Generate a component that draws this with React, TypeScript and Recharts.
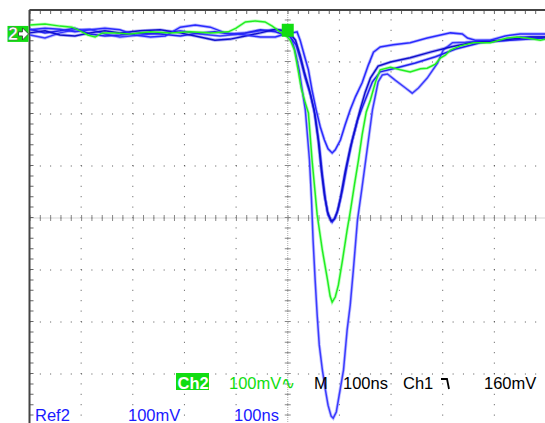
import { LineChart, Line, XAxis, YAxis, ReferenceLine, ReferenceDot } from 'recharts'

// time in ns relative to trigger (100ns/div), level in mV relative to screen centre (100mV/div)
const T_TICKS = [-500, -400, -300, -200, -100, 0, 100, 200, 300, 400, 500]
const V_TICKS = [-400, -300, -200, -100, 0, 100, 200, 300, 400]

const CH2: [number, number][] = [
  [-499, 371], [-470, 373], [-441, 369], [-418, 367], [-402, 360], [-387, 352], [-373, 348], [-359, 356],
  [-334, 356], [-305, 354], [-266, 358], [-228, 356], [-189, 358], [-150, 356], [-115, 358], [-100, 365],
  [-82, 377], [-63, 379], [-44, 377], [-30, 369], [-15, 358], [-3, 350], [5, 342], [13, 323], [20, 285],
  [26, 250], [34, 221], [40, 202], [47, 112], [57, 6], [67, -62], [77, -119], [82, -150], [86, -162],
  [92, -152], [98, -129], [106, -81], [115, -23], [121, 12], [129, 63], [137, 112], [144, 160], [152, 204],
  [160, 227], [170, 262], [179, 285], [199, 290], [218, 285], [237, 281], [257, 287], [270, 288], [286, 296],
  [296, 308], [305, 313], [315, 323], [334, 331], [359, 337], [392, 337], [425, 346], [444, 348], [463, 346],
  [489, 342], [499, 344],
]

const REF_A: [number, number][] = [
  [-499, 362], [-470, 365], [-441, 363], [-412, 358], [-383, 362], [-354, 365], [-325, 362], [-296, 352],
  [-266, 348], [-237, 350], [-208, 367], [-179, 371], [-150, 367], [-121, 356], [-82, 352], [-53, 348],
  [-24, 348], [-5, 354], [9, 356], [18, 358], [24, 342], [32, 313], [40, 285], [47, 246], [55, 208],
  [63, 175], [71, 150], [78, 133], [86, 125], [92, 131], [102, 150], [111, 179], [121, 208], [131, 233],
  [144, 260], [156, 294], [166, 319], [179, 329], [204, 333], [237, 337], [270, 346], [296, 352], [315, 356],
  [338, 354], [348, 346], [363, 342], [392, 342], [421, 350], [450, 354], [499, 354],
]

const REF_B: [number, number][] = [
  [-499, 356], [-470, 360], [-441, 352], [-412, 350], [-383, 356], [-354, 360], [-325, 356], [-286, 360],
  [-247, 362], [-208, 356], [-170, 348], [-141, 342], [-111, 344], [-82, 350], [-53, 356], [-24, 363],
  [-5, 360], [5, 354], [15, 342], [24, 313], [32, 281], [42, 246], [51, 208], [59, 150], [65, 92], [71, 44],
  [77, 12], [84, -6], [90, -2], [96, 12], [102, 38], [111, 88], [121, 135], [131, 173], [140, 208],
  [150, 242], [160, 269], [175, 292], [199, 300], [237, 308], [276, 319], [315, 329], [354, 337], [412, 342],
  [470, 348], [499, 348],
]

const REF_C: [number, number][] = [
  [-499, 363], [-470, 356], [-441, 360], [-412, 365], [-383, 354], [-354, 350], [-325, 352], [-286, 356],
  [-247, 354], [-208, 350], [-170, 356], [-141, 358], [-111, 354], [-82, 356], [-53, 362], [-24, 358],
  [-5, 352], [5, 348], [16, 333], [26, 300], [34, 269], [44, 237], [53, 198], [61, 140], [67, 83], [73, 35],
  [78, 6], [86, -8], [92, 0], [98, 19], [106, 54], [115, 102], [125, 150], [135, 188], [144, 212],
  [154, 237], [164, 262], [179, 281], [208, 288], [247, 298], [286, 310], [325, 325], [373, 337], [431, 342],
  [499, 346],
]

const REF_D: [number, number][] = [
  [-499, 352], [-470, 346], [-441, 356], [-412, 362], [-383, 363], [-354, 354], [-325, 348], [-286, 352],
  [-247, 356], [-208, 360], [-170, 354], [-131, 350], [-92, 354], [-53, 360], [-24, 362], [-5, 358],
  [5, 350], [11, 333], [16, 313], [22, 285], [28, 246], [34, 208], [42, 112], [46, 35], [49, -42],
  [53, -119], [57, -187], [61, -244], [67, -292], [73, -331], [78, -360], [84, -381], [88, -385], [94, -373],
  [98, -350], [108, -292], [115, -215], [121, -167], [127, -100], [135, -4], [144, 60], [152, 119],
  [158, 163], [164, 208], [170, 237], [175, 262], [183, 275], [193, 277], [208, 265], [228, 250], [241, 240],
  [253, 250], [270, 269], [290, 298], [301, 323], [319, 337], [344, 338], [373, 340], [412, 342], [450, 348],
  [499, 348],
]

const CH2_GROUND = 354
const TRIG_LEVEL = 362

const TRACES = [
  { name: 'Ref D', pts: REF_D, color: '#3a3aff', halo: '#9a9aff' },
  { name: 'Ref C', pts: REF_C, color: '#2222ee', halo: '#8888ff' },
  { name: 'Ref B', pts: REF_B, color: '#1010cc', halo: '#7777ee' },
  { name: 'Ref A', pts: REF_A, color: '#2a2aff', halo: '#9090ff' },
  { name: 'Ch2', pts: CH2, color: '#22ee22', halo: '#99ff99' },
]

const GREEN = '#11dd11'
const BLUE = '#1a1aff'
const FONT = '"Liberation Sans", Arial, sans-serif'

function GroundMarker({ cx, cy }: any) {
  return (
    <g>
      <rect x={cx - 22} y={cy - 8} width={21} height={16} fill={GREEN} />
      <text x={cx - 21.5} y={cy + 6.5} fontFamily={FONT} fontWeight="bold" fontSize={18} fill="#fff" stroke="#555" strokeWidth={0.4}>2</text>
      <path d={`M${cx - 11},${cy - 2} h4 v-4 l6,6 l-6,6 v-4 h-4 z`} fill="#fff" stroke="#333" strokeWidth={0.8} />
    </g>
  )
}

function TrigMarker({ cx, cy }: any) {
  return <rect x={cx - 6} y={cy - 6} width={12} height={13} fill={GREEN} />
}

export default function App() {
  return (
    <div style={{ position: 'fixed', left: 0, top: 0, width: 545, height: 423, overflow: 'hidden', background: '#fff' }}>
      <LineChart width={546} height={426} margin={{ top: 10, right: 0, bottom: 0, left: 29.5 }}>
        <XAxis type="number" dataKey="t" domain={[-500, 500]} ticks={T_TICKS} tick={false} tickLine={false} axisLine={false} height={0} allowDataOverflow />
        <YAxis type="number" dataKey="v" domain={[-400, 400]} ticks={V_TICKS} tick={false} tickLine={false} axisLine={false} width={0} allowDataOverflow />
        {/* dotted graticule */}
        {V_TICKS.map(v => <ReferenceLine key={'h' + v} y={v} stroke="#555" strokeDasharray="1 9.32" ifOverflow="visible" />)}
        {T_TICKS.map(t => <ReferenceLine key={'v' + t} x={t} stroke="#555" strokeDasharray="1 9.4" ifOverflow="visible" />)}
        {/* centre cross with minor ticks */}
        <ReferenceLine y={0} stroke="#aaa" strokeDasharray="1 1" ifOverflow="visible" />
        <ReferenceLine y={0} stroke="#888" strokeWidth={6} strokeDasharray="1 9.32" ifOverflow="visible" />
        <ReferenceLine x={0} stroke="#aaa" strokeDasharray="1 1" ifOverflow="visible" />
        <ReferenceLine x={0} stroke="#888" strokeWidth={6} strokeDasharray="1 9.4" ifOverflow="visible" />
        {/* border ticks and frame */}
        <ReferenceLine y={396.2} stroke="#666" strokeWidth={4} strokeDasharray="1 9.32" ifOverflow="visible" />
        <ReferenceLine x={-496.1} stroke="#666" strokeWidth={4} strokeDasharray="1 9.4" ifOverflow="visible" />
        <ReferenceLine y={400} stroke="#444" strokeWidth={2} ifOverflow="visible" />
        <ReferenceLine x={-500} stroke="#444" strokeWidth={2} ifOverflow="visible" />
        <ReferenceDot x={-500} y={CH2_GROUND} r={0} shape={GroundMarker} ifOverflow="visible" />
        <ReferenceDot x={0} y={TRIG_LEVEL} r={0} shape={TrigMarker} ifOverflow="visible" />
        {TRACES.map(s => (
          <Line key={s.name + '-halo'} data={s.pts.map(([t, v]) => ({ t, v }))} dataKey="v" type="linear" legendType="none"
            stroke={s.halo} strokeWidth={3.2} strokeOpacity={0.6} dot={false} activeDot={false} isAnimationActive={false} />
        ))}
        {TRACES.map(s => (
          <Line key={s.name} name={s.name} data={s.pts.map(([t, v]) => ({ t, v }))} dataKey="v" type="linear"
            stroke={s.color} strokeWidth={1.5} dot={false} isAnimationActive={false} />
        ))}
      </LineChart>
      <svg width={545} height={423} style={{ position: 'absolute', left: 0, top: 0, pointerEvents: 'none' }} fontFamily={FONT} fontSize={16.5}>
        <rect x={176} y={373} width={33} height={17} fill={GREEN} />
        <text x={177.5} y={389} fill="#fff" fontWeight="bold">Ch2</text>
        <text x={229} y={389} fill={GREEN}>100mV∿</text>
        <text x={314} y={389} fill="#000">M</text>
        <text x={343} y={389} fill="#000">100ns</text>
        <text x={403} y={389} fill="#000">Ch1</text>
        <path d="M441,379 H447 L449,389" fill="none" stroke="#000" strokeWidth={1.8} />
        <text x={484} y={389} fill="#000">160mV</text>
        <text x={35} y={421} fill={BLUE}>Ref2</text>
        <text x={128} y={421} fill={BLUE}>100mV</text>
        <text x={234} y={421} fill={BLUE}>100ns</text>
      </svg>
    </div>
  )
}
